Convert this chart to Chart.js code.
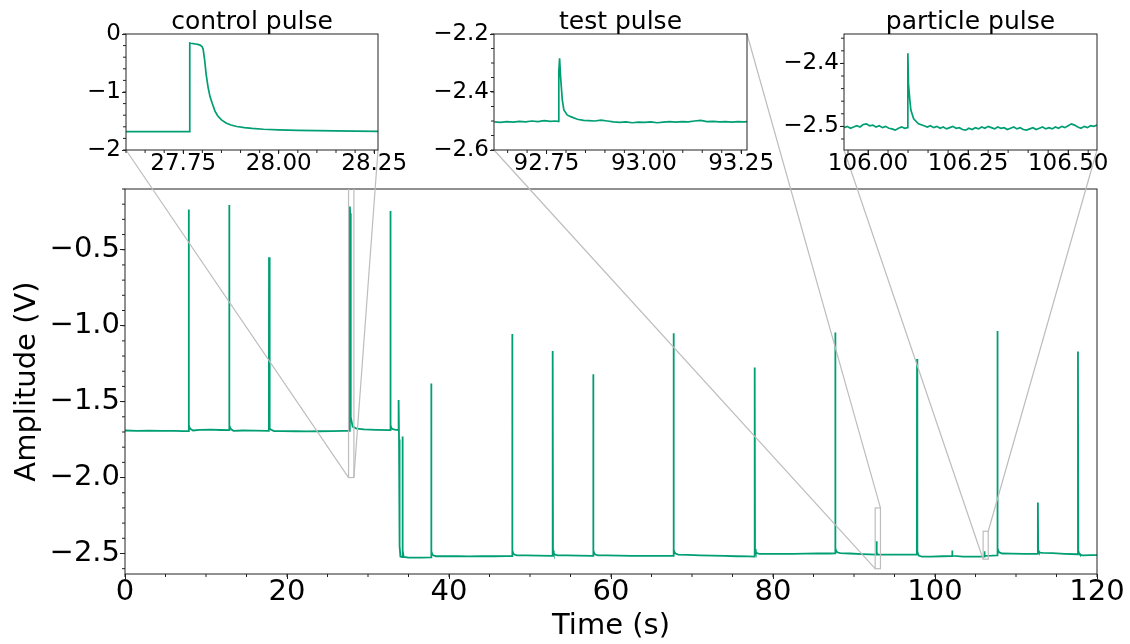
<!DOCTYPE html>
<html>
<head>
<meta charset="utf-8">
<script src="https://cdn.jsdelivr.net/npm/chart.js@4.4.0/dist/chart.umd.min.js"></script>
<style>
  html, body { margin: 0; padding: 0; background: #fff; }
  #wrap { position: relative; width: 1130px; height: 644px; }
  #wrap canvas { position: absolute; left: 0; top: 0; }
</style>
</head>
<body>
<div id="wrap">
  <canvas id="main" width="1130" height="644"></canvas>
  <canvas id="ctrl" width="1130" height="644"></canvas>
  <canvas id="test" width="1130" height="644"></canvas>
  <canvas id="part" width="1130" height="644"></canvas>
</div>
<script>
// ---- main trace (s, V) ----
const mainTime = [
  0, 1.5, 3, 4.5, 6, 7.2, 7.84,
  7.86, 7.90, 7.98, 8.1, 8.4, 9.2, 10.5, 11.8, 12.84,
  12.86, 12.90, 12.98, 13.1, 13.4, 14.5, 16, 17.76,
  17.78, 17.82, 17.9, 18.0, 18.4, 19.5, 21, 22.5, 24, 25.5, 27, 27.74,
  27.76, 27.80, 27.84, 27.9, 28.1, 28.6, 29.5, 31, 32.74,
  32.76, 32.80, 32.88, 33.0, 33.3, 33.76,
  33.78, 33.83, 33.9, 34.0, 34.22, 34.25, 34.3, 34.4, 35, 36.5, 37.78,
  37.80, 37.84, 37.93, 38.05, 38.4, 39.5, 41, 42.5, 44, 45.5, 47, 47.78,
  47.80, 47.84, 47.93, 48.05, 48.4, 49.5, 51, 52.78,
  52.80, 52.84, 52.93, 53.05, 53.4, 54.5, 56, 57.78,
  57.80, 57.84, 57.93, 58.05, 58.4, 59.5, 61, 62.5, 64, 65.5, 67, 67.7,
  67.72, 67.76, 67.85, 67.97, 68.3, 69.5, 71, 72.5, 74, 75.5, 77, 77.72,
  77.74, 77.78, 77.87, 77.99, 78.3, 79.5, 81, 82.5, 84, 85.5, 87, 87.66,
  87.68, 87.72, 87.81, 87.93, 88.3, 89.5, 91, 92.76,
  92.78, 92.82, 92.95, 94.5, 96, 97.76,
  97.78, 97.82, 97.91, 98.03, 98.4, 99.5, 101, 102.1,
  102.12, 102.16, 103.5, 105, 106.08,
  106.1, 106.14, 107, 107.68,
  107.70, 107.74, 107.83, 107.95, 108.3, 109.5, 111, 112.68,
  112.70, 112.74, 112.83, 113.0, 113.3, 114.5, 116, 117.63,
  117.65, 117.69, 117.78, 117.9, 118.2, 119.2, 120
];
const mainVolt = [
  -1.690, -1.692, -1.691, -1.693, -1.692, -1.694, -1.694,
  -0.235, -1.655, -1.672, -1.680, -1.690, -1.686, -1.685, -1.687, -1.688,
  -0.205, -1.655, -1.672, -1.682, -1.692, -1.690, -1.691, -1.693,
  -0.55, -1.66, -1.675, -1.684, -1.694, -1.694, -1.695, -1.696, -1.695, -1.694, -1.693, -1.692,
  -0.215, -0.26, -1.40, -1.6, -1.665, -1.678, -1.683, -1.686, -1.688,
  -0.245, -1.655, -1.672, -1.680, -1.684, -1.688,
  -1.49, -1.75, -2.45, -2.52, -2.523, -1.73, -2.48, -2.522, -2.527, -2.527, -2.525,
  -1.38, -2.485, -2.505, -2.512, -2.518, -2.517, -2.518, -2.519, -2.518, -2.518, -2.517, -2.517,
  -1.055, -2.48, -2.498, -2.507, -2.513, -2.512, -2.514, -2.515,
  -1.167, -2.48, -2.498, -2.507, -2.512, -2.513, -2.514, -2.516,
  -1.32, -2.48, -2.498, -2.507, -2.512, -2.512, -2.514, -2.515, -2.515, -2.516, -2.516, -2.516,
  -1.05, -2.475, -2.492, -2.500, -2.507, -2.509, -2.512, -2.514, -2.516, -2.518, -2.519, -2.52,
  -1.275, -2.47, -2.488, -2.497, -2.502, -2.503, -2.503, -2.502, -2.501, -2.5, -2.5, -2.499,
  -1.045, -2.465, -2.483, -2.492, -2.497, -2.5, -2.504, -2.507,
  -2.42, -2.495, -2.507, -2.508, -2.508, -2.508,
  -1.22, -2.485, -2.505, -2.515, -2.52, -2.52, -2.518, -2.517,
  -2.48, -2.515, -2.52, -2.52, -2.52,
  -2.485, -2.515, -2.514, -2.512,
  -1.035, -2.465, -2.483, -2.493, -2.5, -2.501, -2.502, -2.503,
  -2.165, -2.48, -2.49, -2.494, -2.496, -2.498, -2.502, -2.505,
  -1.17, -2.48, -2.498, -2.507, -2.512, -2.511, -2.511
];
const mainXTicks = [0, 20, 40, 60, 80, 100, 120];
const mainYTicks = [-2.5, -2.0, -1.5, -1.0, -0.5];

// ---- control pulse zoom ----
const ctrlTime = [
  27.60, 27.65, 27.70, 27.74, 27.766,
  27.767, 27.770, 27.776, 27.782, 27.788, 27.794, 27.799, 27.802,
  27.806, 27.810, 27.815, 27.820, 27.826, 27.833, 27.840, 27.850,
  27.862, 27.875, 27.890, 27.91, 27.93, 27.96, 28.00, 28.05, 28.10, 28.15, 28.20, 28.26
];
const ctrlVolt = [
  -1.684, -1.684, -1.683, -1.684, -1.684,
  -0.157, -0.160, -0.165, -0.172, -0.180, -0.192, -0.215, -0.26,
  -0.45, -0.70, -0.92, -1.08, -1.20, -1.33, -1.41, -1.48,
  -1.535, -1.57, -1.595, -1.615, -1.628, -1.642, -1.652, -1.660, -1.666, -1.671, -1.675, -1.680
];
const ctrlXTicks = [27.75, 28.0, 28.25];
const ctrlYTicks = [-2, -1, 0];
const ctrlWindow = [27.6, 28.26, -2, 0];

// ---- test pulse zoom ----
const testTime = [
  92.616, 92.632, 92.648, 92.664, 92.680, 92.696, 92.712, 92.728, 92.744, 92.760, 92.772, 92.7795,
  92.7815, 92.7835, 92.786, 92.7905, 92.7945, 92.803, 92.812, 92.829, 92.845,
  92.858, 92.874, 92.890, 92.906, 92.922, 92.938, 92.954, 92.970, 92.986, 93.002,
  93.018, 93.034, 93.050, 93.066, 93.082, 93.098, 93.114, 93.130, 93.146, 93.162,
  93.178, 93.194, 93.210, 93.226, 93.242, 93.258, 93.267
];
const testVolt = [
  -2.503, -2.505, -2.502, -2.504, -2.501, -2.503, -2.500, -2.502, -2.499, -2.501, -2.500, -2.501,
  -2.33, -2.284, -2.347, -2.428, -2.462, -2.479, -2.485, -2.494, -2.498,
  -2.499, -2.500, -2.497, -2.500, -2.503, -2.505, -2.503, -2.506, -2.504, -2.505,
  -2.503, -2.506, -2.504, -2.502, -2.504, -2.502, -2.503, -2.500, -2.498, -2.502,
  -2.501, -2.503, -2.502, -2.504, -2.502, -2.503, -2.502
];
const testXTicks = [92.75, 93.0, 93.25];
const testYTicks = [-2.6, -2.4, -2.2];
const testWindow = [92.615, 93.265, -2.6, -2.2];

// ---- particle pulse zoom ----
const partTime = [
  105.940, 105.948, 105.956, 105.964, 105.972, 105.980, 105.988, 105.996,
  106.004, 106.012, 106.020, 106.028, 106.036, 106.044, 106.052, 106.060,
  106.068, 106.076, 106.084, 106.092, 106.0985,
  106.0995, 106.101, 106.104, 106.107, 106.114, 106.126, 106.140,
  106.148, 106.156, 106.164, 106.172, 106.180, 106.188, 106.196, 106.204,
  106.212, 106.220, 106.228, 106.236, 106.244, 106.252, 106.260, 106.268,
  106.276, 106.284, 106.292, 106.300, 106.308, 106.316, 106.324, 106.332,
  106.340, 106.348, 106.356, 106.364, 106.372, 106.380, 106.388, 106.396,
  106.404, 106.412, 106.420, 106.428, 106.436, 106.444, 106.452, 106.460,
  106.468, 106.476, 106.484, 106.492, 106.500, 106.508, 106.516, 106.524,
  106.532, 106.540, 106.548, 106.556, 106.564, 106.572
];
const partVolt = [
  -2.502, -2.500, -2.503, -2.501, -2.499, -2.501, -2.497, -2.496,
  -2.499, -2.498, -2.501, -2.499, -2.502, -2.500, -2.503, -2.504,
  -2.506, -2.503, -2.501, -2.503, -2.502,
  -2.384, -2.432, -2.455, -2.474, -2.488, -2.496, -2.499,
  -2.501, -2.499, -2.502, -2.500, -2.503, -2.501, -2.504, -2.502,
  -2.500, -2.503, -2.502, -2.505, -2.506, -2.503, -2.505, -2.502,
  -2.504, -2.501, -2.503, -2.500, -2.502, -2.504, -2.501, -2.503,
  -2.502, -2.505, -2.503, -2.501, -2.504, -2.502, -2.505, -2.506,
  -2.504, -2.502, -2.505, -2.503, -2.501, -2.504, -2.502, -2.504,
  -2.501, -2.503, -2.500, -2.502, -2.499, -2.496, -2.498, -2.501,
  -2.503, -2.500, -2.502, -2.499, -2.500, -2.498
];
const partXTicks = [106.0, 106.25, 106.5];
const partYTicks = [-2.5, -2.4];
const partWindow = [105.94, 106.572, -2.5375, -2.3533];

const GREEN = '#009e73';
const FONT = 'DejaVu Sans';
const INK = '#000';

const minus = s => s.replace('-', '\u2212');
const toPoints = (t, v) => t.map((x, i) => ({ x: x, y: v[i] }));

function linAxis(min, max, ticks, fmt, size, fontSize, tickLen, pad) {
  return {
    type: 'linear',
    min: min,
    max: max,
    afterBuildTicks: s => { s.ticks = ticks.map(v => ({ value: v })); },
    afterFit: s => { if (s.isHorizontal()) s.height = size; else s.width = size; },
    grid: { drawOnChartArea: false, tickLength: tickLen, tickColor: '#222', tickWidth: 1 },
    border: { display: false },
    ticks: {
      callback: fmt,
      autoSkip: false,
      maxRotation: 0,
      color: INK,
      padding: pad,
      font: { family: FONT, size: fontSize, lineHeight: 1 }
    }
  };
}

// frame, minor ticks and optional title
function deco(minorX, minorY, title, titleSize) {
  return {
    id: 'deco',
    afterDatasetsDraw(chart) {
      const { ctx, chartArea: a, scales: { x, y } } = chart;
      ctx.save();
      ctx.strokeStyle = '#222';
      ctx.lineWidth = 1;
      ctx.beginPath();
      for (let k = Math.ceil(x.min / minorX - 1e-6); k * minorX <= x.max + 1e-6; k++) {
        const px = x.getPixelForValue(k * minorX);
        ctx.moveTo(px, a.bottom); ctx.lineTo(px, a.bottom + 3);
      }
      for (let k = Math.ceil(y.min / minorY - 1e-6); k * minorY <= y.max + 1e-6; k++) {
        const py = y.getPixelForValue(k * minorY);
        ctx.moveTo(a.left, py); ctx.lineTo(a.left - 3, py);
      }
      ctx.stroke();
      ctx.strokeRect(a.left, a.top, a.right - a.left, a.bottom - a.top);
      if (title) {
        ctx.fillStyle = INK;
        ctx.font = titleSize + 'px "' + FONT + '"';
        ctx.textAlign = 'center';
        ctx.textBaseline = 'alphabetic';
        ctx.fillText(title, (a.left + a.right) / 2, a.top - 5.5);
      }
      ctx.restore();
    }
  };
}

function makeInset(id, time, volt, win, xt, yt, xfmt, yfmt, box, title, minorX, minorY) {
  return new Chart(document.getElementById(id), {
    type: 'line',
    data: { datasets: [{ data: toPoints(time, volt), borderColor: GREEN, borderWidth: 1.7,
      pointRadius: 0, fill: false, tension: 0 }] },
    options: {
      responsive: false, animation: false, devicePixelRatio: 1, events: [],
      layout: { padding: { left: 0, top: box[1], right: 1130 - box[2], bottom: 0 } },
      plugins: { legend: { display: false }, tooltip: { enabled: false } },
      scales: {
        x: linAxis(win[0], win[1], xt, xfmt, 644 - box[3], 23, 4, -1),
        y: linAxis(win[2], win[3], yt, yfmt, box[0], 23, 4, 1)
      }
    },
    plugins: [deco(minorX, minorY, title, 25)]
  });
}

const ctrlChart = makeInset('ctrl', ctrlTime, ctrlVolt, ctrlWindow, ctrlXTicks, ctrlYTicks,
  v => v.toFixed(2), v => minus(v.toFixed(0)), [126, 34, 378, 150], 'control pulse', 0.05, 0.2);
const testChart = makeInset('test', testTime, testVolt, testWindow, testXTicks, testYTicks,
  v => v.toFixed(2), v => minus(v.toFixed(1)), [494, 34, 747, 150], 'test pulse', 0.05, 0.05);
const partChart = makeInset('part', partTime, partVolt, partWindow, partXTicks, partYTicks,
  v => v.toFixed(2), v => minus(v.toFixed(1)), [844, 34, 1097, 150], 'particle pulse', 0.05, 0.02);

// which inset corner joins which zoom-box corner
const links = [
  { chart: ctrlChart, win: ctrlWindow, pairs: [['lb', 'lb'], ['rb', 'rb']] },
  { chart: testChart, win: testWindow, pairs: [['lb', 'lb'], ['rt', 'rt']] },
  { chart: partChart, win: partWindow, pairs: [['lb', 'lb'], ['rb', 'rt']] }
];

const corner = (b, c) => ({ x: c[0] === 'l' ? b.left : b.right, y: c[1] === 'b' ? b.bottom : b.top });

const zoomMarks = {
  id: 'zoomMarks',
  afterDatasetsDraw(chart) {
    const { ctx, chartArea: a, scales: { x, y } } = chart;
    ctx.save();
    ctx.strokeStyle = '#bdbdbd';
    ctx.lineWidth = 1.2;
    links.forEach(l => {
      const r = {
        left: x.getPixelForValue(l.win[0]), right: x.getPixelForValue(l.win[1]),
        top: y.getPixelForValue(l.win[3]), bottom: y.getPixelForValue(l.win[2])
      };
      ctx.save();
      ctx.beginPath();
      ctx.rect(a.left, a.top, a.right - a.left, a.bottom - a.top);
      ctx.clip();
      ctx.strokeRect(r.left, r.top, r.right - r.left, r.bottom - r.top);
      ctx.restore();
      const ia = l.chart.chartArea;
      l.pairs.forEach(p => {
        const s = corner(ia, p[0]);
        const e = corner(r, p[1]);
        ctx.beginPath();
        ctx.moveTo(s.x, s.y);
        ctx.lineTo(e.x, Math.max(e.y, a.top));
        ctx.stroke();
      });
    });
    ctx.restore();
  }
};

const mainX = linAxis(0, 120, mainXTicks, v => String(v), 644 - 574, 29, 5, -1);
mainX.title = { display: true, text: 'Time (s)', color: INK, font: { family: FONT, size: 29 },
  padding: { top: 0, bottom: 0 } };
const mainY = linAxis(-2.635, -0.1, mainYTicks, v => minus(v.toFixed(1)), 125, 29, 5, 0);
mainY.title = { display: true, text: 'Amplitude (V)', color: INK, font: { family: FONT, size: 29 },
  padding: { top: 10, bottom: 0 } };

new Chart(document.getElementById('main'), {
  type: 'line',
  data: { datasets: [{ data: toPoints(mainTime, mainVolt), borderColor: GREEN, borderWidth: 1.8,
    pointRadius: 0, fill: false, tension: 0 }] },
  options: {
    responsive: false, animation: false, devicePixelRatio: 1, events: [],
    layout: { padding: { left: 0, top: 189, right: 33, bottom: 0 } },
    plugins: { legend: { display: false }, tooltip: { enabled: false } },
    scales: { x: mainX, y: mainY }
  },
  plugins: [deco(5, 0.1, null, 0), zoomMarks]
});
</script>
</body>
</html>
